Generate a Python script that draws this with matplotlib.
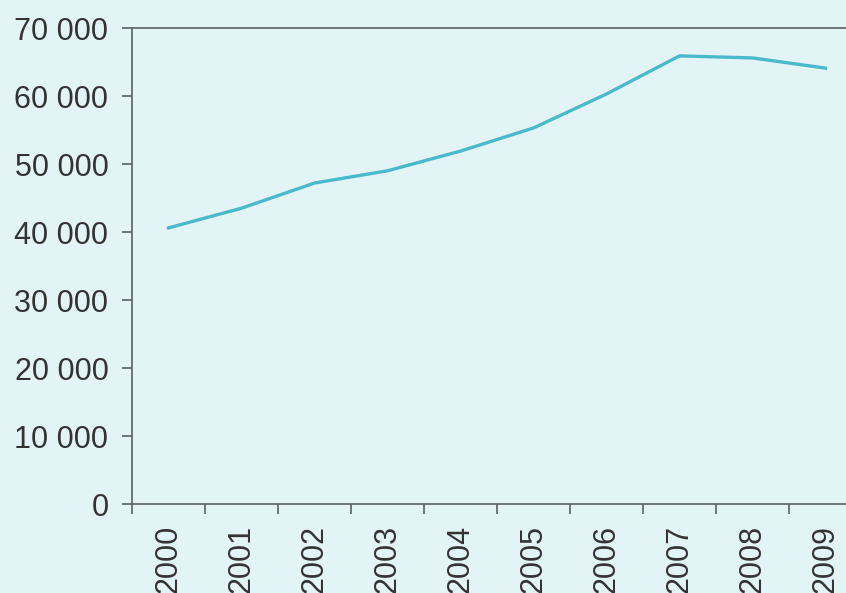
import matplotlib
matplotlib.use('Agg')
import matplotlib.pyplot as plt
import numpy as np
from matplotlib.ticker import FuncFormatter, FixedLocator

years = ['2000', '2001', '2002', '2003', '2004', '2005', '2006', '2007', '2008', '2009']
values = [40600, 43500, 47200, 49000, 51900, 55300, 60300, 65900, 65600, 64100]

bg = '#e3f4f7'
line_color = '#4ab9cc'
axis_color = '#5a6264'
text_color = '#333333'

plt.rcParams['font.family'] = ['Liberation Sans', 'DejaVu Sans']

fig = plt.figure(figsize=(8.46, 5.93), dpi=100, facecolor=bg)
# axes runs off the right edge, last category is cut
ax = fig.add_axes([132 / 846, 89 / 593, 730 / 846, 476 / 593])
ax.set_facecolor(bg)

x = np.arange(len(years))
ax.plot(x, values, color=line_color, lw=2.4, solid_joinstyle='round')

ax.set_xlim(-0.5, len(years) - 0.5)
ax.set_ylim(0, 70000)
ax.set_yticks(np.arange(0, 70001, 10000))
ax.yaxis.set_major_formatter(FuncFormatter(lambda v, p: f'{int(v):,}'.replace(',', ' ')))

# ticks sit between categories, labels at the centres
ax.xaxis.set_major_locator(FixedLocator(np.arange(-0.5, len(years), 1.0)))
ax.xaxis.set_minor_locator(FixedLocator(x))
ax.set_xticklabels([])
ax.set_xticklabels(years, minor=True, rotation=90, va='top')
ax.tick_params(axis='x', which='major', length=7, width=1.2, color=axis_color)
ax.tick_params(axis='x', which='minor', length=0, pad=15, labelsize=22, labelcolor=text_color)
ax.tick_params(axis='y', length=7, width=1.2, color=axis_color, pad=10,
               labelsize=22, labelcolor=text_color)

for side in ['left', 'bottom', 'top']:
    ax.spines[side].set_color(axis_color)
    ax.spines[side].set_linewidth(1.2)
ax.spines['right'].set_visible(False)

fig.savefig('out.png', dpi=100, facecolor=bg)
